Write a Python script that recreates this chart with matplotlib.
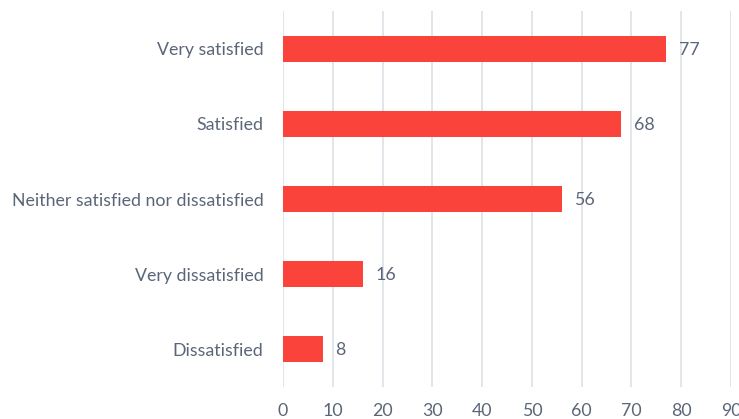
import matplotlib
matplotlib.use('Agg')
import matplotlib.pyplot as plt

# chart data (top to bottom as shown)
categories = ['Very satisfied', 'Satisfied', 'Neither satisfied nor dissatisfied',
              'Very dissatisfied', 'Dissatisfied']
values = [77, 68, 56, 16, 8]
xticks = [0, 10, 20, 30, 40, 50, 60, 70, 80, 90]

text_color = '#5a6678'
bar_color = '#fa443b'
grid_color = '#dde1e6'

plt.rcParams['font.family'] = ['Lato', 'DejaVu Sans']
fs = 12.8

fig = plt.figure(figsize=(7.39, 4.19), dpi=100)
ax = fig.add_axes([283 / 739, 32.5 / 419, 448 / 739, 375 / 419])

pos = list(range(len(categories)))
ax.barh(pos, values, height=0.35, color=bar_color, zorder=3)
for p, v in zip(pos, values):
    ax.annotate(str(v), xy=(v, p), xytext=(9, -1), textcoords='offset points',
                va='center', ha='left', fontsize=fs, color=text_color)

ax.set_xlim(0, 90)
ax.set_ylim(len(categories) - 0.5, -0.5)
ax.set_yticks(pos)
ax.set_yticklabels(categories)
ax.set_xticks(xticks)
ax.xaxis.grid(True, color=grid_color, linewidth=1.2, zorder=0)
ax.tick_params(axis='both', length=0, colors=text_color, labelsize=fs)
ax.tick_params(axis='y', pad=14)
ax.tick_params(axis='x', pad=12)
for s in ax.spines.values():
    s.set_visible(False)

fig.savefig('out.png', dpi=100)
